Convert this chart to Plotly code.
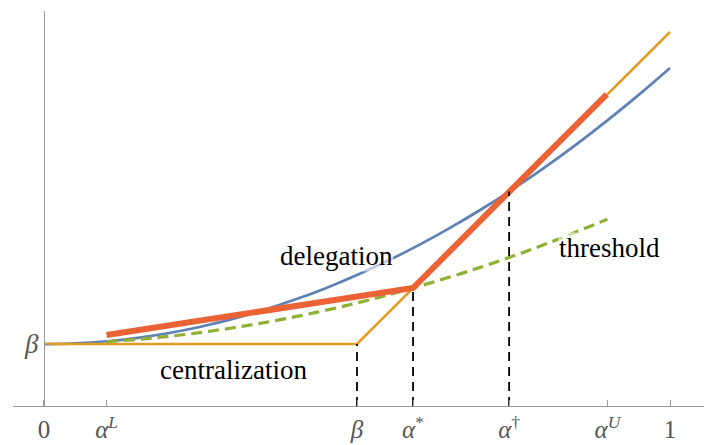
import plotly.graph_objects as go

# Key thresholds on the horizontal axis
alpha_L = 0.1
beta_x = 0.5
alpha_star = 0.5895
alpha_dagger = 0.743
alpha_U = 0.9
beta_level = 0.099

tick_vals = [0, alpha_L, beta_x, alpha_star, alpha_dagger, alpha_U, 1]
tick_text = ["0", "<i>α</i><sup><i>L</i></sup>", "<i>β</i>", "<i>α</i><sup>*</sup>",
             "<i>α</i><sup>†</sup>", "<i>α</i><sup><i>U</i></sup>", "1"]

# Delegation payoff
deleg_x = [0, 0.05, 0.1, 0.15, 0.2, 0.25, 0.3, 0.35, 0.4, 0.45, 0.5,
           0.55, 0.6, 0.65, 0.7, 0.75, 0.8, 0.85, 0.9, 0.95, 1.0]
deleg_y = [0.099, 0.1001, 0.1034, 0.1089, 0.1166, 0.1266, 0.1387, 0.1530, 0.1696, 0.1883, 0.2093,
           0.2324, 0.2578, 0.2853, 0.3151, 0.3471, 0.3812, 0.4176, 0.4562, 0.4970, 0.540]

# Centralization payoff
central_x = [0, 0.5, 1.0]
central_y = [0.099, 0.099, 0.5975]

# Threshold rule
thresh_x = [0.1, 0.2, 0.3, 0.4, 0.5, 0.5895, 0.7, 0.8, 0.9]
thresh_y = [0.1026, 0.1113, 0.1246, 0.1423, 0.1646, 0.1885, 0.2225, 0.2582, 0.2984]

# Optimal envelope
opt_x = [0.1, 0.5895, 0.899]
opt_y = [0.1134, 0.1885, 0.498]

# Vertical guide heights
guide_x = [beta_x, alpha_star, alpha_dagger]
guide_top = [0.099, 0.1885, 0.3425]

BLUE = "#5E81B5"
ORANGE = "#E19C24"
GREEN = "#8FB032"
RED = "#EB6235"
AXIS = "#9a9a9a"
SERIF = "Times New Roman, Liberation Serif, DejaVu Serif, serif"

fig = go.Figure()
fig.add_trace(go.Scatter(x=deleg_x, y=deleg_y, mode="lines",
                         line=dict(color=BLUE, width=2.7, shape="spline")))
fig.add_trace(go.Scatter(x=central_x, y=central_y, mode="lines",
                         line=dict(color=ORANGE, width=2.6)))
fig.add_trace(go.Scatter(x=thresh_x, y=thresh_y, mode="lines",
                         line=dict(color=GREEN, width=3.2, dash="11px,6px", shape="spline")))
fig.add_trace(go.Scatter(x=opt_x, y=opt_y, mode="lines",
                         line=dict(color=RED, width=6)))
for gx, gt in zip(guide_x, guide_top):
    fig.add_trace(go.Scatter(x=[gx, gx], y=[0, gt], mode="lines",
                             line=dict(color="black", width=1.8, dash="9px,6px")))

label_font = dict(family=SERIF, size=27, color="black")
fig.add_annotation(x=0.468, y=0.240, text="delegation", showarrow=False,
                   font=label_font, bgcolor="rgba(255,255,255,0.6)", borderpad=0)
fig.add_annotation(x=0.9026, y=0.253, text="threshold", showarrow=False,
                   font=label_font, bgcolor="rgba(255,255,255,0.6)", borderpad=0)
fig.add_annotation(x=0.303, y=0.058, text="centralization", showarrow=False,
                   font=label_font)

tick_font = dict(family=SERIF, size=25, color="#555555")
fig.update_layout(
    width=704, height=445,
    margin=dict(l=13, r=0, t=11, b=39),
    paper_bgcolor="white", plot_bgcolor="white",
    showlegend=False,
    font=dict(family=SERIF),
    xaxis=dict(range=[-0.0495, 1.0543], showgrid=False, zeroline=False,
               automargin=False,
               showline=True, linecolor=AXIS, linewidth=1.2,
               ticks="inside", ticklen=6, tickcolor=AXIS, tickwidth=1.2,
               tickvals=tick_vals, ticktext=tick_text, tickfont=tick_font,
               ticklabelstandoff=1),
    yaxis=dict(range=[0, 0.631], showgrid=False, zeroline=False,
               automargin=False,
               anchor="free", position=0.04486,
               showline=True, linecolor=AXIS, linewidth=1.2,
               ticks="inside", ticklen=5, tickcolor=AXIS, tickwidth=1.2,
               tickvals=[beta_level], ticktext=["<i>β</i>"],
               tickfont=dict(family=SERIF, size=27, color="#555555")),
)

fig.write_html("out.html")
